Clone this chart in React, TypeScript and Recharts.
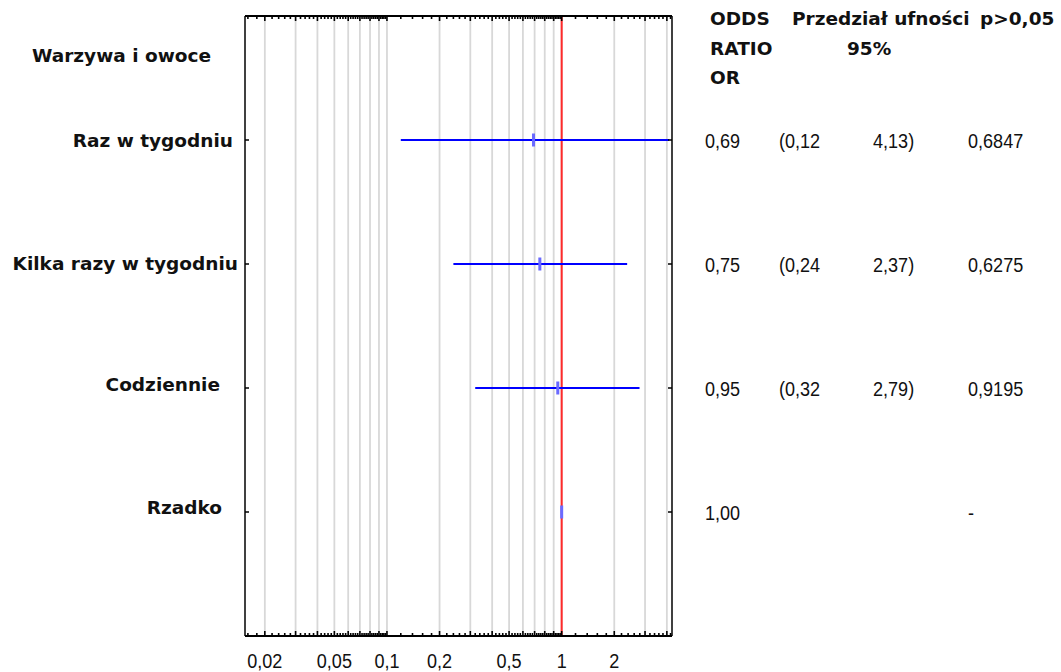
import React from "react";
import { ReferenceLine, Scatter, ScatterChart, XAxis, YAxis } from "recharts";

// rows, top to bottom
const categories = ["Raz w tygodniu", "Kilka razy w tygodniu", "Codziennie", "Rzadko"];
const oddsRatio = [0.69, 0.75, 0.95, 1.0];
const ciLower: (number | null)[] = [0.12, 0.24, 0.32, null];
const ciUpper: (number | null)[] = [4.13, 2.37, 2.79, null];

// table texts on the right
const orLabels = ["0,69", "0,75", "0,95", "1,00"];
const lowerLabels = ["(0,12", "(0,24", "(0,32", ""];
const upperLabels = ["4,13)", "2,37)", "2,79)", ""];
const pLabels = ["0,6847", "0,6275", "0,9195", "-"];

// log axis
const gridValues = [
  0.02, 0.03, 0.04, 0.05, 0.06, 0.07, 0.08, 0.09,
  0.1, 0.2, 0.3, 0.4, 0.5, 0.6, 0.7, 0.8, 0.9,
  1, 2, 3, 4,
];
const axisLabels = [0.02, 0.05, 0.1, 0.2, 0.5, 1, 2];
const xDomain: [number, number] = [0.0154, 4.28];

const rowTicks = categories.map((_, i) => i + 1);

// small inner ticks between grid values (axis decoration only)
const edges = [0.01, ...gridValues, 5];
const minorTicks: number[] = [];
for (let i = 0; i < edges.length - 1; i++) {
  for (let k = 1; k < 5; k++) {
    const v = edges[i] + ((edges[i + 1] - edges[i]) * k) / 5;
    if (v > xDomain[0] && v < xDomain[1]) minorTicks.push(v);
  }
}
const allTicks = [...gridValues, ...minorTicks].sort((a, b) => a - b);

const BOLD = "'DejaVu Sans', sans-serif";
const NUM = "'Liberation Sans', Arial, sans-serif";
const NUM_SQUEEZE = 0.86;
const labelDx = [-5, 0, -18, -16];
const labelDy = [0, -1, -4, -5];
const tableCols = [33, 107, 201, 296];

const points = oddsRatio.map((v, i) => ({ x: v, y: i + 1 }));

const fmt = (v: number) => String(v).replace(".", ",");

// narrow numeric text, like the original's condensed font
function NumText({ x, y, anchor = "start", children }: any) {
  return (
    <text
      transform={`translate(${x},${y}) scale(${NUM_SQUEEZE},1)`}
      textAnchor={anchor}
      fontFamily={NUM}
      fontSize={21}
      fill="#111"
    >
      {children}
    </text>
  );
}

function BottomTick({ x, y, payload }: any) {
  const v = payload.value;
  const major = gridValues.includes(v);
  return (
    <g>
      <line x1={x} x2={x} y1={y} y2={y - (major ? 5 : 3)} stroke="#000" strokeWidth={1.6} />
      {axisLabels.includes(v) ? (
        <NumText x={x} y={y + 32} anchor="middle">
          {fmt(v)}
        </NumText>
      ) : null}
    </g>
  );
}

function TopTick({ x, y, payload }: any) {
  const major = gridValues.includes(payload.value);
  return <line x1={x} x2={x} y1={y} y2={y + (major ? 5 : 3)} stroke="#000" strokeWidth={1.6} />;
}

function LeftTick({ x, y, payload }: any) {
  const i = payload.value - 1;
  return (
    <g>
      <line x1={x} x2={x + 4} y1={y} y2={y} stroke="#000" strokeWidth={1.5} />
      <text
        x={x - 7 + labelDx[i]}
        y={y + 7 + labelDy[i]}
        textAnchor="end"
        fontFamily={BOLD}
        fontWeight="bold"
        fontSize={18.5}
        fill="#111"
      >
        {categories[i]}
      </text>
    </g>
  );
}

function RightTick({ x, y, payload }: any) {
  const i = payload.value - 1;
  const cells = [orLabels[i], lowerLabels[i], upperLabels[i], pLabels[i]];
  return (
    <g>
      <line x1={x - 4} x2={x} y1={y} y2={y} stroke="#000" strokeWidth={1.5} />
      {cells.map((t, c) => (
        <NumText key={c} x={x + tableCols[c]} y={y + 8}>
          {t}
        </NumText>
      ))}
    </g>
  );
}

function Marker({ cx, cy }: any) {
  return <rect x={cx - 1.5} y={cy - 6.5} width={3} height={13} fill="#6a6aff" />;
}

const NoShape = () => <g />;

export default function App() {
  return (
    <div style={{ position: "absolute", left: 0, top: 0, width: 1061, height: 672, background: "#fff" }}>
      <ScatterChart width={1061} height={672} margin={{ top: 0, right: 0, bottom: 0, left: 0 }}>
        <XAxis
          dataKey="x"
          type="number"
          scale="log"
          domain={xDomain}
          allowDataOverflow
          ticks={allTicks}
          interval={0}
          height={36}
          tickSize={0}
          tickMargin={0}
          tickLine={false}
          tick={<BottomTick />}
          axisLine={{ stroke: "#000", strokeWidth: 2 }}
        />
        <XAxis
          xAxisId="top"
          dataKey="x"
          orientation="top"
          type="number"
          scale="log"
          domain={xDomain}
          allowDataOverflow
          ticks={allTicks}
          interval={0}
          height={16}
          tickSize={0}
          tickMargin={0}
          tickLine={false}
          tick={<TopTick />}
          axisLine={{ stroke: "#000", strokeWidth: 2 }}
        />
        <YAxis
          dataKey="y"
          type="number"
          domain={[0, 5]}
          reversed
          ticks={rowTicks}
          interval={0}
          width={245}
          tickSize={0}
          tickMargin={0}
          tickLine={false}
          tick={<LeftTick />}
          axisLine={{ stroke: "#000", strokeWidth: 1.5 }}
        />
        <YAxis
          yAxisId="right"
          dataKey="y"
          orientation="right"
          type="number"
          domain={[0, 5]}
          reversed
          ticks={rowTicks}
          interval={0}
          width={389}
          tickSize={0}
          tickMargin={0}
          tickLine={false}
          tick={<RightTick />}
          axisLine={{ stroke: "#000", strokeWidth: 1.5 }}
        />
        {gridValues.map((v) => (
          <ReferenceLine key={v} x={v} stroke="#d8d8d8" strokeWidth={1.8} />
        ))}
        <ReferenceLine x={1} stroke="#ff2a2a" strokeWidth={2} />
        {categories.map((c, i) =>
          ciLower[i] != null && ciUpper[i] != null ? (
            <ReferenceLine
              key={c}
              segment={[
                { x: ciLower[i] as number, y: i + 1 },
                { x: ciUpper[i] as number, y: i + 1 },
              ]}
              stroke="#0000ff"
              strokeWidth={2}
            />
          ) : null
        )}
        {/* carries the same rows on the top and right axes so they draw their ticks */}
        <Scatter
          data={points}
          xAxisId="top"
          yAxisId="right"
          shape={<NoShape />}
          isAnimationActive={false}
        />
        <Scatter data={points} shape={<Marker />} isAnimationActive={false} />
      </ScatterChart>
      <svg
        width={1061}
        height={672}
        style={{ position: "absolute", left: 0, top: 0, pointerEvents: "none" }}
      >
        <g fontFamily={BOLD} fontWeight="bold" fontSize={18.5} fill="#111">
          <text x={32} y={62}>Warzywa i owoce</text>
          <text x={710} y={25}>ODDS</text>
          <text x={710} y={55}>RATIO</text>
          <text x={710} y={84}>OR</text>
          <text x={792} y={25}>Przedział ufności</text>
          <text x={847} y={55}>95%</text>
          <text x={980} y={25}>p&gt;0,05</text>
        </g>
      </svg>
    </div>
  );
}
